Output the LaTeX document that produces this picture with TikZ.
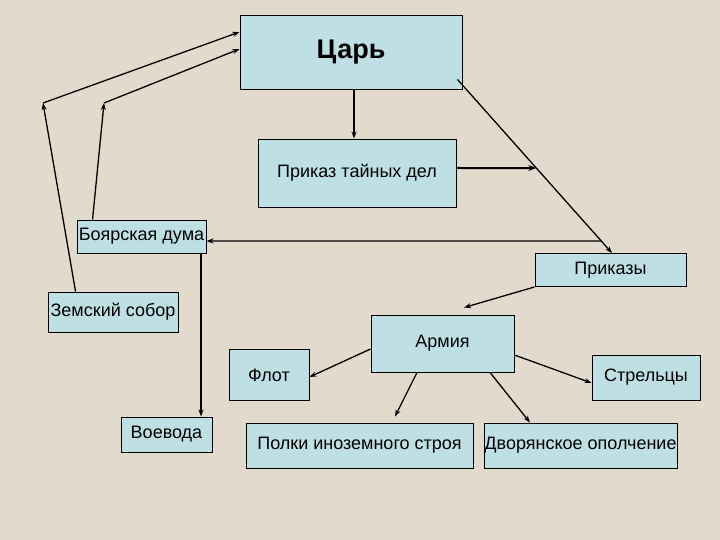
\documentclass[tikz,border=0pt]{standalone}
\usepackage{fontspec}
\setmainfont{Liberation Sans}
\usetikzlibrary{arrows.meta}
\definecolor{bgc}{RGB}{226,218,205}
\definecolor{boxc}{RGB}{190,224,229}
\begin{document}
\begin{tikzpicture}[x=1pt,y=-1pt,
  bx/.style={draw=black,line width=0.9pt,fill=boxc,inner sep=0pt,font=\fontsize{18}{21}\selectfont},
  arr/.style={line width=1.3pt,-{Stealth[length=7pt,width=5pt]}},
  ln/.style={line width=1.3pt}]
\fill[bgc] (0,0) rectangle (720,540);
\useasboundingbox (0,0) rectangle (720,540);
\node[bx,minimum width=222pt,minimum height=74pt,font=\fontsize{27}{31}\selectfont\bfseries] (tsar) at (351,52) {Царь};
\node[bx,minimum width=198pt,minimum height=68pt] (pt) at (357,173) {Приказ тайных дел};
\node[bx,minimum width=129pt,minimum height=33pt] (duma) at (141.5,236.5) {Боярская дума};
\node[bx,minimum width=151pt,minimum height=33pt] (prikazy) at (610.5,270) {Приказы};
\node[bx,minimum width=130pt,minimum height=40pt] (zemsky) at (113,312) {Земский собор};
\node[bx,minimum width=143pt,minimum height=57pt] (army) at (442.5,343.5) {Армия};
\node[bx,minimum width=80pt,minimum height=51pt] (flot) at (269,375) {Флот};
\node[bx,minimum width=108pt,minimum height=45pt] (strel) at (646,377.5) {Стрельцы};
\node[bx,minimum width=91pt,minimum height=35pt] (voev) at (166.5,434.5) {Воевода};
\node[bx,minimum width=227pt,minimum height=45pt] (polki) at (359.5,445.5) {Полки иноземного строя};
\node[bx,minimum width=193pt,minimum height=45pt] (dvor) at (580.5,445.5) {Дворянское ополчение};
% bend points
\coordinate (c1) at (43,103);
\coordinate (c2) at (104,103);
% zemsky sobor -> tsar
\draw[arr] ([xshift=28pt]zemsky.north west) -- (c1);
\draw[arr] (c1) -- ([yshift=20pt]tsar.west);
% duma -> tsar
\draw[arr] ([xshift=16pt]duma.north west) -- (c2);
\draw[arr] (c2) -- ([yshift=3pt]tsar.west);
% tsar -> prikaz tainykh del
\draw[arr] ([xshift=3pt]tsar.south) -- ([xshift=3pt]tsar.south |- pt.north);
% tsar -> prikazy
\coordinate (d1) at ([xshift=-5pt,yshift=10pt]tsar.south east);
\coordinate (d2) at ([xshift=1.5pt]prikazy.north);
\draw[arr] (d1) -- (d2);
\coordinate (h1) at ([yshift=5pt]pt.east);
\coordinate (m1) at (intersection of d1--d2 and h1--{700,168});
\draw[line width=2pt,-{Stealth[length=8pt,width=6pt]}] (h1) -- (m1);
\coordinate (h2) at ([yshift=-4.5pt]duma.east);
\coordinate (m2) at (intersection of d1--d2 and h2--{700,241});
\draw[arr] (m2) -- (h2);
% duma -> voevoda
\coordinate (v1) at ([xshift=59.5pt]duma.south);
\draw[arr] (v1) -- (v1 |- voev.north);
% prikazy -> army
\draw[arr] (prikazy.south west) -- ([xshift=21.5pt,yshift=7pt]army.north);
% army -> subordinate
\draw[arr] ([yshift=-5.5pt]army.west) -- ([yshift=-2pt]flot.east);
\draw[arr] ([xshift=-25.5pt]army.south) -- ([xshift=35.5pt,yshift=6pt]polki.north);
\draw[arr] ([xshift=47.5pt]army.south) -- ([xshift=-50.5pt]dvor.north);
\draw[arr] ([yshift=-11.5pt]army.east) -- ([yshift=-5.5pt]strel.west);
\end{tikzpicture}
\end{document}
